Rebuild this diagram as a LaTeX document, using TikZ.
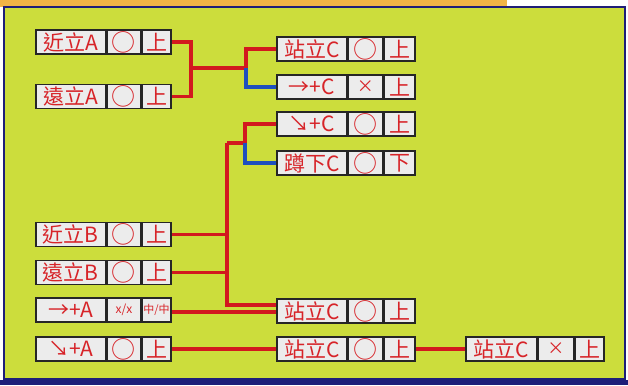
\documentclass[tikz,border=0pt]{standalone}
\usepackage{fontspec}
\setmainfont{Noto Sans CJK TC}
\usetikzlibrary{calc}
\definecolor{panel}{RGB}{204,221,60}
\definecolor{navyb}{RGB}{30,30,120}
\definecolor{orangeb}{RGB}{240,180,70}
\definecolor{redl}{RGB}{210,25,30}
\definecolor{bluel}{RGB}{30,80,190}
\definecolor{cellf}{RGB}{236,236,236}
\definecolor{txt}{RGB}{215,35,40}
\pgfdeclarelayer{bg}
\pgfdeclarelayer{ln}
\pgfsetlayers{bg,ln,main}
\newcommand\trio[8]{%
  \node[cell, minimum width=#3pt] (#1a) at (#2) {#6};
  \node[cell, minimum width=#4pt] (#1b) at (#1a.east) {#7};
  \node[cell, minimum width=#5pt] (#1c) at (#1b.east) {#8};}
\newcommand\smtxt[1]{{\fontsize{12}{12}\selectfont #1}}
\newcommand\tntxt[1]{{\fontsize{11}{11}\selectfont #1}}
\newcommand\bigo{{\fontsize{24}{24}\selectfont ○}}
\newcommand\smx{{\fontsize{17}{17}\selectfont ×}}
\begin{document}
\begin{tikzpicture}[x=1pt,y=-1pt,
  cell/.style={draw=black!85, line width=1.6pt, fill=cellf, minimum height=24pt,
    inner sep=0pt, anchor=west, text=txt, font=\fontsize{21}{21}\selectfont},
  rl/.style={draw=redl, line width=3.1pt},
  bl/.style={draw=bluel, line width=3.1pt}]
\useasboundingbox (0,0) rectangle (628,385);
\begin{pgfonlayer}{bg}
  \fill[white] (0,0) rectangle (628,385);
  \fill[orangeb] (0,0) rectangle (507,7);
  \fill[panel] (4,7) rectangle (625,379);
  \draw[navyb, line width=2.2pt] (4,7) rectangle (625,379);
  \fill[navyb] (0,380) rectangle (628,385);
\end{pgfonlayer}

\trio{na}{35,42}{70}{33}{29}{近立A}{\bigo}{上}
\trio{ya}{35,96.5}{70}{33}{29}{遠立A}{\bigo}{上}
\trio{sc}{276,49}{70}{34}{31}{站立C}{\bigo}{上}
\trio{fc}{276,87}{70}{34}{31}{→+C}{\smx}{上}
\trio{dc}{276,124}{70}{34}{31}{↘+C}{\bigo}{上}
\trio{kc}{276,163}{70}{34}{31}{蹲下C}{\bigo}{下}
\trio{nb}{35,234.5}{70}{33}{29}{近立B}{\bigo}{上}
\trio{yb}{35,272.5}{70}{33}{29}{遠立B}{\bigo}{上}
\trio{fa}{35,310}{70}{33}{29}{→+A}{\smtxt{x/x}}{\tntxt{中/中}}
\trio{da}{35,349}{70}{33}{29}{↘+A}{\bigo}{上}
\trio{sa}{276,311}{70}{34}{31}{站立C}{\bigo}{上}
\trio{sb}{276,349}{70}{34}{31}{站立C}{\bigo}{上}
\trio{sd}{465,349}{71}{35}{29}{站立C}{\smx}{上}

\begin{pgfonlayer}{ln}
  \coordinate (j1) at (191,68);
  \coordinate (j2) at (246,68);
  \draw[rl] (nac.east) -| (j1);
  \draw[rl] (yac.east) -| (j1);
  \draw[rl] (j1) -- (j2) |- (sca.west);
  \draw[bl] (j2) |- (fca.west);
  \coordinate (t1) at (227,143);
  \coordinate (j3) at (245,143);
  \draw[rl] (t1) -- (j3) |- (dca.west);
  \draw[bl] (j3) |- (kca.west);
  \draw[rl] (t1) |- ($(saa.west)+(0,-6)$);
  \draw[rl] (nbc.east) -- (nbc.east -| t1);
  \draw[rl] (ybc.east) -- (ybc.east -| t1);
  \draw[rl] ($(fac.east)+(0,2)$) -- ($(saa.west)+(0,1)$);
  \draw[rl] (dac.east) -- (sba.west);
  \draw[rl] (sbc.east) -- (sda.west);
\end{pgfonlayer}
\end{tikzpicture}
\end{document}
